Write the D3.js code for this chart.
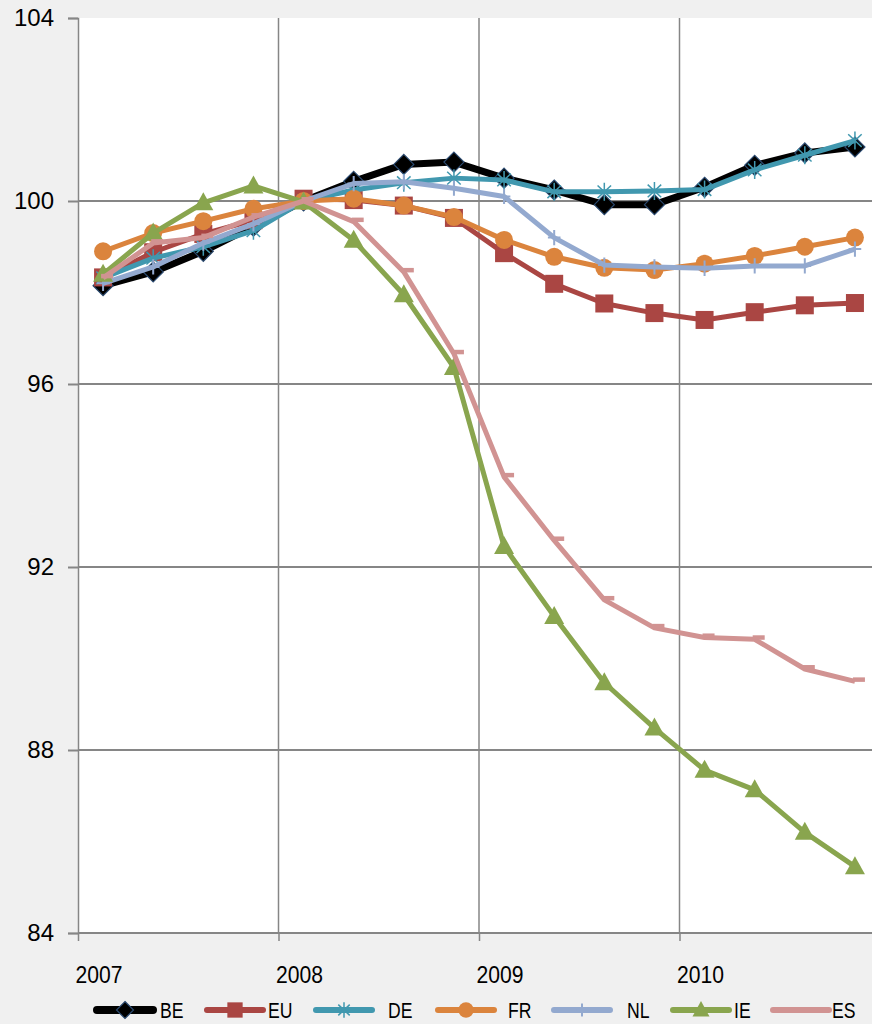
<!DOCTYPE html>
<html><head><meta charset="utf-8">
<script src="https://cdn.jsdelivr.net/npm/d3@7"></script>
<style>
html,body{margin:0;padding:0;background:#f0f0f0;}
svg{display:block;}
text{font-family:"Liberation Sans",Arial,sans-serif;fill:#000;}
</style></head>
<body>
<svg id="chart" width="872" height="1024"></svg>
<script>
// ---- data ----
const quarters = d3.range(16); // 2007Q1 .. 2010Q4
const yearLabels = ["2007","2008","2009","2010"];
const yTicks = [84,88,92,96,100,104];
const seriesNames = ["BE","EU","DE","FR","NL","IE","ES"];
const BE = [98.15,98.45,98.9,99.45,100.0,100.43,100.8,100.85,100.5,100.24,99.92,99.92,100.3,100.78,101.05,101.18];
const EU = [98.33,98.88,99.28,99.58,100.05,100.02,99.9,99.63,98.86,98.19,97.76,97.55,97.4,97.57,97.72,97.77];
const DE = [98.32,98.75,99.0,99.35,100.0,100.24,100.4,100.5,100.46,100.2,100.2,100.22,100.25,100.68,101.0,101.32];
const FR = [98.9,99.3,99.56,99.83,100.0,100.05,99.9,99.65,99.15,98.78,98.54,98.49,98.63,98.8,99.0,99.2];
const NL = [98.2,98.56,99.08,99.5,100.0,100.38,100.42,100.28,100.1,99.2,98.6,98.56,98.53,98.58,98.58,98.95];
const IE = [98.4,99.3,99.96,100.33,99.98,99.14,97.95,96.36,92.45,90.92,89.47,88.48,87.56,87.13,86.2,85.45];
const ES = [98.32,99.08,99.2,99.65,100.0,99.55,98.45,96.66,93.97,92.58,91.28,90.67,90.46,90.42,89.77,89.5];
const seriesValues = [BE,EU,DE,FR,NL,IE,ES];
const colors = ["#000000","#AA4643","#4198AF","#DB843D","#93A9CF","#89A54E","#D19392"];
const markers = ["diamond","square","asterisk","circle","plus","triangle","dash"];

// ---- layout ----
const W = 872, H = 1024;
const plotLeft = 78, plotTop = 18, plotBottom = 933;
const bandW = 50.125;
const svg = d3.select("#chart");
svg.append("rect").attr("width",W).attr("height",H).attr("fill","#f0f0f0");

const x = d3.scaleLinear().domain([0,16]).range([plotLeft, plotLeft+16*bandW]);
const y = d3.scaleLinear().domain([84,104]).range([plotBottom, plotTop]);

svg.append("rect").attr("x",plotLeft).attr("y",plotTop).attr("width",W-plotLeft).attr("height",plotBottom-plotTop).attr("fill","#fff");

// horizontal gridlines
svg.append("g").selectAll("line").data(yTicks.filter(v=>v>84 && v<104)).join("line")
  .attr("x1",plotLeft).attr("x2",W).attr("y1",d=>y(d)).attr("y2",d=>y(d))
  .attr("stroke","#868686").attr("stroke-width",2);
// vertical gridlines
svg.append("g").selectAll("line").data([4,8,12]).join("line")
  .attr("x1",d=>x(d)).attr("x2",d=>x(d)).attr("y1",plotTop).attr("y2",plotBottom)
  .attr("stroke","#868686").attr("stroke-width",1.5);

// y axis
const yAxis = d3.axisLeft(y).tickValues(yTicks).tickSize(10).tickPadding(14).tickFormat(d3.format("d"));
const gy = svg.append("g").attr("transform",`translate(${plotLeft},0)`).call(yAxis);
gy.select(".domain").attr("stroke","#868686").attr("stroke-width",1.5);
gy.selectAll(".tick line").attr("stroke","#868686").attr("stroke-width",2);
gy.selectAll(".tick text").attr("font-size",24).attr("font-family","Liberation Sans, Arial, sans-serif").attr("fill","#000");

// x axis
const xAxis = d3.axisBottom(x).tickValues([0,4,8,12]).tickSize(8).tickFormat((d,i)=>yearLabels[i]);
const gx = svg.append("g").attr("transform",`translate(0,${plotBottom})`).call(xAxis);
gx.select(".domain").attr("stroke","#868686").attr("stroke-width",2).attr("d",`M${plotLeft},0H${W}`);
gx.selectAll(".tick line").attr("stroke","#868686").attr("stroke-width",1.5);
gx.selectAll(".tick text").attr("font-size",24).attr("font-family","Liberation Sans, Arial, sans-serif").attr("fill","#000")
  .attr("text-anchor","start").attr("y",0).attr("dy",0)
  .attr("transform","translate(-3,50) scale(0.88,1)");

// marker drawing
function drawMarker(g, type, color, size){
  const s = size;
  switch(type){
    case "diamond":
      g.append("path").attr("d",`M0,${-s}L${s},0L0,${s}L${-s},0Z`).attr("fill","#000").attr("stroke","#2b4a70").attr("stroke-width",1.2); break;
    case "square":
      g.append("rect").attr("x",-s*0.9).attr("y",-s*0.9).attr("width",s*1.8).attr("height",s*1.8).attr("fill",color); break;
    case "circle":
      g.append("circle").attr("r",s*0.9).attr("fill",color); break;
    case "asterisk":
      g.append("path").attr("d",`M0,${-s}V${s}M${-s*0.75},${-s*0.7}L${s*0.75},${s*0.7}M${-s*0.75},${s*0.7}L${s*0.75},${-s*0.7}`)
        .attr("stroke",color).attr("stroke-width",1.5).attr("fill","none"); break;
    case "plus":
      g.append("path").attr("d",`M0,${-s*0.85}V${s*0.85}M${-s*0.7},0H${s*0.7}`).attr("stroke",color).attr("stroke-width",2).attr("fill","none"); break;
    case "triangle":
      g.append("path").attr("d",`M0,${-s*1.05}L${s},${s*0.75}L${-s},${s*0.75}Z`).attr("fill",color); break;
    case "dash":
      g.append("rect").attr("x",-2).attr("y",-4).attr("width",12).attr("height",4.5).attr("fill",color); break;
  }
}

const line = d3.line().x((d,i)=>x(i+0.5)).y(d=>y(d));
const lineWidths = [7,5,5,5,5,5,5];
const markerSizes = [10,10,9,10,9,10,5];

const plot = svg.append("g");
seriesValues.forEach((vals,si)=>{
  const g = plot.append("g");
  g.append("path").datum(vals).attr("d",line).attr("fill","none")
    .attr("stroke",colors[si]).attr("stroke-width",lineWidths[si]).attr("stroke-linejoin","round");
  vals.forEach((v,i)=>{
    const mg = g.append("g").attr("transform",`translate(${x(i+0.5)},${y(v)})`);
    drawMarker(mg, markers[si], colors[si], markerSizes[si]);
  });
});

// legend
const legLineX = [97,207,316,438,554,673,773];
const legTextX = [160,268,388,508,627,734,832];
const legY = 1010;
const leg = svg.append("g");
seriesNames.forEach((name,si)=>{
  const g = leg.append("g");
  g.append("line").attr("x1",legLineX[si]).attr("x2",legLineX[si]+56).attr("y1",legY).attr("y2",legY)
    .attr("stroke",colors[si]).attr("stroke-width",si===0?8:6).attr("stroke-linecap","round");
  const mg = g.append("g").attr("transform",`translate(${legLineX[si]+28},${legY})`);
  if(markers[si]!=="dash") drawMarker(mg, markers[si], colors[si], markerSizes[si]*0.85);
  g.append("text").attr("transform",`translate(${legTextX[si]},${legY+8}) scale(0.8,1)`)
    .attr("font-size",22).text(name);
});
</script>
</body></html>
